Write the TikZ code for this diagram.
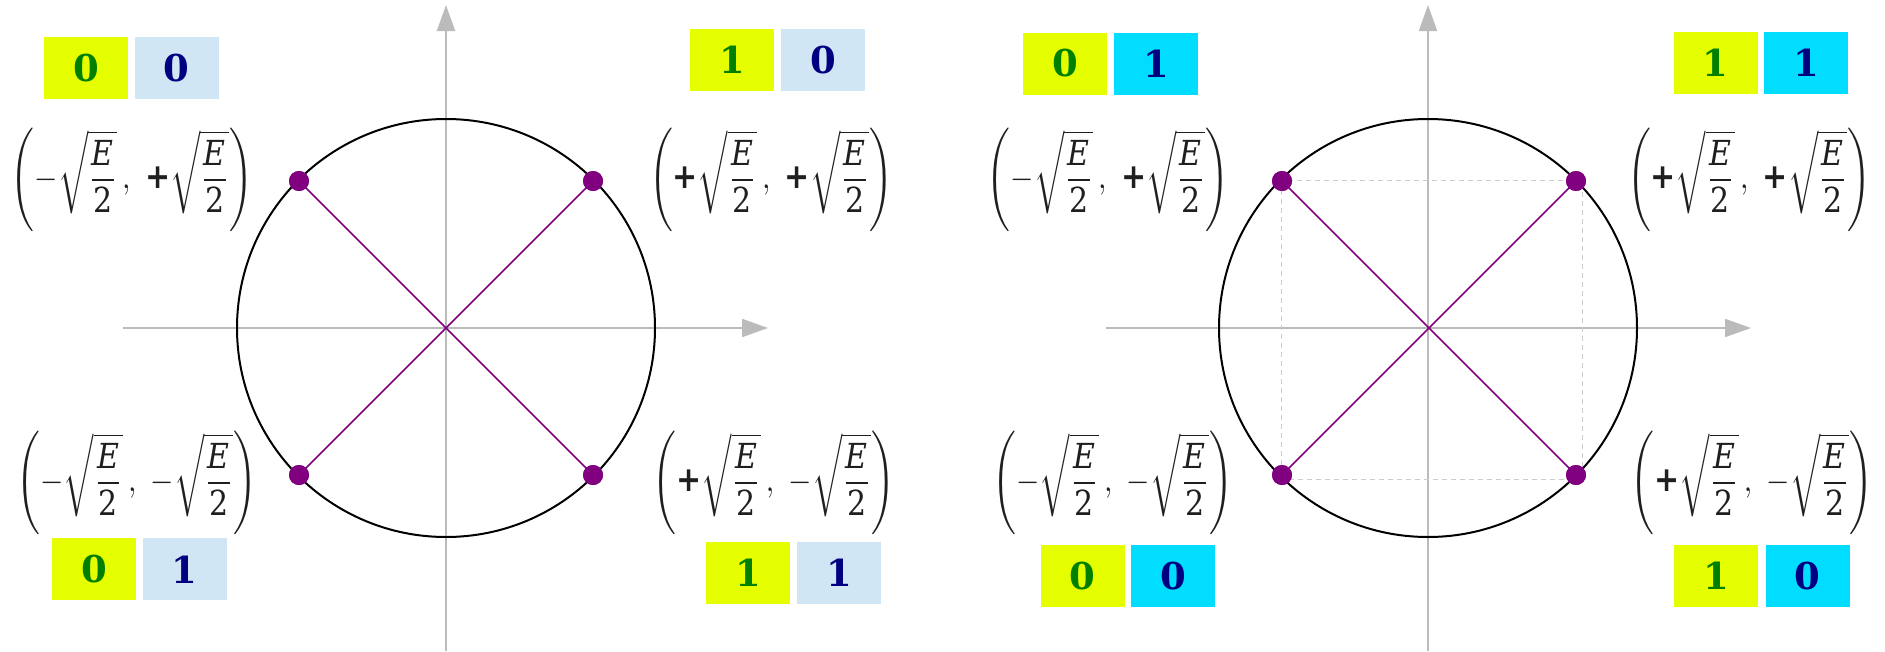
\documentclass[tikz,border=0pt]{standalone}
\usepackage{graphicx}
\usepackage{fontspec}
\setmainfont{DejaVu Serif}
\newfontfamily\plusfont{DejaVu Sans}
\usetikzlibrary{arrows.meta}
\definecolor{bitY}{HTML}{E6FF00}
\definecolor{bitG}{HTML}{008000}
\definecolor{bitL}{HTML}{D0E6F4}
\definecolor{bitC}{HTML}{00DDFF}
\definecolor{bitN}{HTML}{000080}
\definecolor{purp}{HTML}{800080}
\definecolor{axgray}{HTML}{BBBBBB}
\definecolor{dashgray}{HTML}{CCCCCC}
\newcommand{\pls}{\mbox{\plusfont\bfseries +}}
\newcommand{\mns}{-}
\newcommand{\qfrac}{\sqrt{\frac{\mbox{\itshape E}}{\mbox{2}}}}
\newcommand{\pt}[2]{\scalebox{3.0}[3.45]{$\displaystyle\left(#1\qfrac\,,\ #2\qfrac\right)$}}
\tikzset{
  axisline/.style={draw=axgray,line width=2pt,-{Triangle[length=26pt,width=18pt]}},
  bitbox/.style={minimum width=84pt,minimum height=62pt,inner sep=0pt,font=\fontsize{37}{40}\selectfont\bfseries},
  ybox/.style={bitbox,fill=bitY,text=bitG},
  lbox/.style={bitbox,fill=bitL,text=bitN},
  cbox/.style={bitbox,fill=bitC,text=bitN},
  dotnode/.style={circle,fill=purp,inner sep=0pt,minimum size=20pt},
  coordlabel/.style={inner sep=0pt,text=black!88},
  ring/.style={draw=black,line width=2pt},
  spoke/.style={draw=purp,line width=1.6pt},
  guide/.style={draw=dashgray,line width=1.2pt,dash pattern=on 5pt off 4pt},
}
\begin{document}
\begin{tikzpicture}[x=1pt,y=-1pt]
\useasboundingbox (0,0) rectangle (1885,651);
% ---------- left diagram ----------
\coordinate (cA) at (446,328);
\coordinate (axAw) at (123,328);
\coordinate (axAe) at (768,328);
\coordinate (axAs) at (446,651);
\coordinate (axAn) at (446,5);
\draw[axisline] (axAw) -- (axAe);
\draw[axisline] (axAs) -- (axAn);
\draw[ring] (cA) circle[radius=209];
\node[dotnode] (a1) at (299,181) {};
\node[dotnode] (a2) at (593,181) {};
\node[dotnode] (a3) at (299,475) {};
\node[dotnode] (a4) at (593,475) {};
\draw[spoke] (a1.center) -- (a4.center);
\draw[spoke] (a3.center) -- (a2.center);
\node[dotnode] at (a1) {};
\node[dotnode] at (a2) {};
\node[dotnode] at (a3) {};
\node[dotnode] at (a4) {};
\node[ybox] (ay1) at (85.9,67.7) {0};
\node[lbox] (ab1) at (176.7,67.7) {0};
\node[ybox] (ay2) at (732.2,59.9) {1};
\node[lbox] (ab2) at (822.9,59.9) {0};
\node[ybox] (ay3) at (93.9,569.3) {0};
\node[lbox] (ab3) at (184.7,569.3) {1};
\node[ybox] (ay4) at (748.4,572.7) {1};
\node[lbox] (ab4) at (838.9,572.7) {1};
\node[coordlabel] (al1) at (132,180) {\pt{\mns}{\pls}};
\node[coordlabel] (al2) at (771,180) {\pt{\pls}{\pls}};
\node[coordlabel] (al3) at (137,483) {\pt{\mns}{\mns}};
\node[coordlabel] (al4) at (774,483) {\pt{\pls}{\mns}};
% ---------- right diagram ----------
\coordinate (cB) at (1428,328);
\coordinate (axBw) at (1106,328);
\coordinate (axBe) at (1751,328);
\coordinate (axBs) at (1428,651);
\coordinate (axBn) at (1428,5);
\draw[axisline] (axBw) -- (axBe);
\draw[axisline] (axBs) -- (axBn);
\coordinate (rq1) at (1281.7,180.7);
\coordinate (rq2) at (1582.7,479.3);
\draw[guide] (rq1) rectangle (rq2);
\draw[ring] (cB) circle[radius=209];
\node[dotnode] (b1) at (1282,181) {};
\node[dotnode] (b2) at (1576,181) {};
\node[dotnode] (b3) at (1282,475) {};
\node[dotnode] (b4) at (1576,475) {};
\draw[spoke] (b1.center) -- (b4.center);
\draw[spoke] (b3.center) -- (b2.center);
\node[dotnode] at (b1) {};
\node[dotnode] at (b2) {};
\node[dotnode] at (b3) {};
\node[dotnode] at (b4) {};
\node[ybox] (by1) at (1065.2,63.5) {0};
\node[cbox] (bc1) at (1156,63.5) {1};
\node[ybox] (by2) at (1715.5,63.2) {1};
\node[cbox] (bc2) at (1806.2,63.2) {1};
\node[ybox] (by3) at (1082.5,575.8) {0};
\node[cbox] (bc3) at (1173,575.8) {0};
\node[ybox] (by4) at (1716,575.8) {1};
\node[cbox] (bc4) at (1807.5,575.8) {0};
\node[coordlabel] (bl1) at (1108,180) {\pt{\mns}{\pls}};
\node[coordlabel] (bl2) at (1749,180) {\pt{\pls}{\pls}};
\node[coordlabel] (bl3) at (1113,483) {\pt{\mns}{\mns}};
\node[coordlabel] (bl4) at (1752,483) {\pt{\pls}{\mns}};
\end{tikzpicture}
\end{document}
